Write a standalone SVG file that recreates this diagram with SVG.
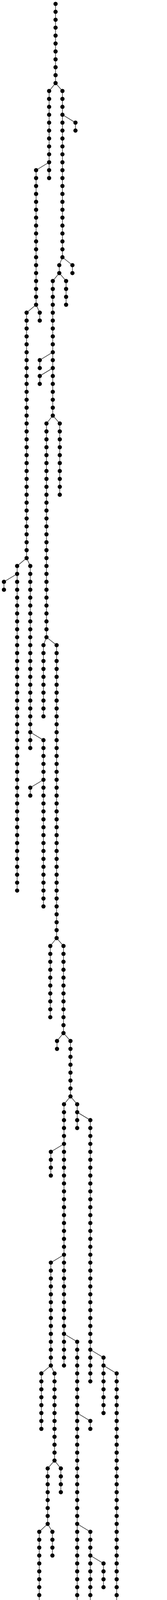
<svg xmlns="http://www.w3.org/2000/svg" width="428" height="6262" viewBox="0 0 428 6262">
<style>
#links line,#links polyline{stroke:#333;stroke-width:1.5;fill:none;vector-effect:non-scaling-stroke}
#nodes use{fill:#000}
</style>
<defs><circle id="d" r="5.4" transform="scale(1 0.049344)"/></defs>
<rect width="428" height="6262" fill="#fff"/>
<g transform="matrix(1 0 0 20.266 0 10)">
<g id="links">
<line x1="142.4" y1="0" x2="142.4" y2="10"/>
<line x1="125.9" y1="11" x2="125.9" y2="22"/>
<line x1="160" y1="11" x2="160" y2="32"/>
<line x1="92.5" y1="21" x2="92.5" y2="38"/>
<line x1="193.4" y1="15" x2="193.4" y2="16"/>
<line x1="151.9" y1="33" x2="151.9" y2="34"/>
<line x1="185.6" y1="33" x2="185.6" y2="34"/>
<line x1="68.2" y1="39" x2="68.2" y2="70"/>
<line x1="101.9" y1="39" x2="101.9" y2="40"/>
<line x1="135.3" y1="35" x2="135.3" y2="52"/>
<line x1="169.4" y1="35" x2="169.4" y2="38"/>
<line x1="101.9" y1="45" x2="101.9" y2="46"/>
<line x1="101.9" y1="47" x2="101.9" y2="48"/>
<line x1="119.1" y1="53" x2="119.1" y2="80"/>
<line x1="153.2" y1="53" x2="153.2" y2="62"/>
<line x1="43.9" y1="71" x2="43.9" y2="112"/>
<line x1="77.6" y1="71" x2="77.6" y2="94"/>
<line x1="111.4" y1="81" x2="111.4" y2="90"/>
<line x1="145.1" y1="81" x2="145.1" y2="118"/>
<line x1="10.1" y1="73" x2="10.1" y2="74"/>
<line x1="111.4" y1="93" x2="111.4" y2="114"/>
<line x1="77.6" y1="99" x2="77.6" y2="100"/>
<line x1="128.9" y1="119" x2="128.9" y2="128"/>
<line x1="162.7" y1="119" x2="162.7" y2="130"/>
<line x1="146.1" y1="131" x2="146.1" y2="132"/>
<line x1="180.6" y1="131" x2="180.6" y2="138"/>
<line x1="164" y1="139" x2="164" y2="172"/>
<line x1="197.8" y1="139" x2="197.8" y2="142"/>
<line x1="231.5" y1="141" x2="231.5" y2="174"/>
<line x1="265.3" y1="171" x2="265.3" y2="178"/>
<line x1="130.3" y1="145" x2="130.3" y2="148"/>
<line x1="130.3" y1="159" x2="130.3" y2="172"/>
<line x1="197.8" y1="169" x2="197.8" y2="204"/>
<line x1="106" y1="173" x2="106" y2="180"/>
<line x1="139.7" y1="173" x2="139.7" y2="184"/>
<line x1="231.5" y1="179" x2="231.5" y2="180"/>
<line x1="231.5" y1="193" x2="231.5" y2="238"/>
<line x1="164" y1="203" x2="164" y2="204"/>
<line x1="299" y1="173" x2="299" y2="230"/>
<line x1="122.2" y1="185" x2="122.2" y2="192"/>
<line x1="155.9" y1="185" x2="155.9" y2="188"/>
<line x1="100.6" y1="193" x2="100.6" y2="206"/>
<line x1="134.3" y1="193" x2="134.3" y2="196"/>
<line x1="70.9" y1="207" x2="70.9" y2="236"/>
<line x1="104.6" y1="207" x2="104.6" y2="208"/>
<line x1="265.3" y1="197" x2="265.3" y2="200"/>
<line x1="265.3" y1="215" x2="265.3" y2="218"/>
<line x1="212.6" y1="239" x2="212.6" y2="272"/>
<line x1="246.4" y1="239" x2="246.4" y2="254"/>
<line x1="138.4" y1="205" x2="138.4" y2="212"/>
<line x1="172.1" y1="205" x2="172.1" y2="258"/>
<line x1="265.3" y1="209" x2="265.3" y2="214"/>
<line x1="289.6" y1="231" x2="289.6" y2="258"/>
<line x1="323.3" y1="231" x2="323.3" y2="238"/>
<line x1="46.6" y1="237" x2="46.6" y2="240"/>
<line x1="80.3" y1="237" x2="80.3" y2="240"/>
<line x1="138.4" y1="223" x2="138.4" y2="252"/>
<line x1="104.6" y1="249" x2="104.6" y2="250"/>
<line x1="20.9" y1="241" x2="20.9" y2="252"/>
<line x1="54.7" y1="241" x2="54.7" y2="250"/>
<line x1="357.1" y1="235" x2="357.1" y2="238"/>
<line x1="331.4" y1="239" x2="331.4" y2="240"/>
<line x1="365.2" y1="239" x2="365.2" y2="256"/>
<line x1="338.5" y1="257" x2="338.5" y2="268"/>
<polyline points="372.9,257 372.9,264 374.6,265 376.3,266 379.7,267 384.1,268 389.8,269 389.8,280"/>
<line x1="287.9" y1="267" x2="287.9" y2="282"/>
<line x1="321.6" y1="269" x2="321.6" y2="280"/>
<line x1="355.4" y1="269" x2="355.4" y2="270"/>
<line x1="254.1" y1="273" x2="254.1" y2="276"/>
<line x1="321.6" y1="281" x2="321.6" y2="298"/>
<line x1="422.5" y1="279" x2="422.5" y2="288"/>
<line x1="389.8" y1="281" x2="389.8" y2="296"/>
<line x1="355.9" y1="285" x2="355.9" y2="298"/>
<line x1="422.5" y1="293" x2="422.5" y2="294"/>
<line x1="287.9" y1="291" x2="287.9" y2="292"/>
<line x1="287.9" y1="295" x2="287.9" y2="308"/>
<line x1="142.4" y1="10" x2="125.9" y2="11"/>
<line x1="142.4" y1="10" x2="160" y2="11"/>
<line x1="160" y1="14" x2="193.4" y2="15"/>
<line x1="125.9" y1="20" x2="92.5" y2="21"/>
<line x1="160" y1="32" x2="151.9" y2="33"/>
<line x1="160" y1="32" x2="185.6" y2="33"/>
<line x1="151.9" y1="34" x2="135.3" y2="35"/>
<line x1="151.9" y1="34" x2="169.4" y2="35"/>
<line x1="92.5" y1="38" x2="68.2" y2="39"/>
<line x1="92.5" y1="38" x2="101.9" y2="39"/>
<line x1="135.3" y1="44" x2="101.9" y2="45"/>
<line x1="135.3" y1="46" x2="101.9" y2="47"/>
<line x1="135.3" y1="52" x2="119.1" y2="53"/>
<line x1="135.3" y1="52" x2="153.2" y2="53"/>
<line x1="68.2" y1="70" x2="43.9" y2="71"/>
<line x1="68.2" y1="70" x2="77.6" y2="71"/>
<line x1="43.9" y1="72" x2="10.1" y2="73"/>
<line x1="119.1" y1="80" x2="111.4" y2="81"/>
<line x1="119.1" y1="80" x2="145.1" y2="81"/>
<line x1="77.6" y1="92" x2="111.4" y2="93"/>
<line x1="111.4" y1="98" x2="77.6" y2="99"/>
<line x1="145.1" y1="118" x2="128.9" y2="119"/>
<line x1="145.1" y1="118" x2="162.7" y2="119"/>
<line x1="162.7" y1="130" x2="146.1" y2="131"/>
<line x1="162.7" y1="130" x2="180.6" y2="131"/>
<line x1="180.6" y1="138" x2="164" y2="139"/>
<line x1="180.6" y1="138" x2="197.8" y2="139"/>
<line x1="197.8" y1="140" x2="231.5" y2="141"/>
<line x1="164" y1="144" x2="130.3" y2="145"/>
<line x1="164" y1="158" x2="130.3" y2="159"/>
<line x1="164" y1="168" x2="197.8" y2="169"/>
<line x1="231.5" y1="170" x2="265.3" y2="171"/>
<line x1="265.3" y1="172" x2="299" y2="173"/>
<line x1="130.3" y1="172" x2="106" y2="173"/>
<line x1="130.3" y1="172" x2="139.7" y2="173"/>
<line x1="197.8" y1="178" x2="231.5" y2="179"/>
<line x1="139.7" y1="184" x2="122.2" y2="185"/>
<line x1="139.7" y1="184" x2="155.9" y2="185"/>
<line x1="122.2" y1="192" x2="100.6" y2="193"/>
<line x1="122.2" y1="192" x2="134.3" y2="193"/>
<line x1="197.8" y1="192" x2="231.5" y2="193"/>
<line x1="231.5" y1="196" x2="265.3" y2="197"/>
<line x1="197.8" y1="202" x2="164" y2="203"/>
<line x1="164" y1="204" x2="138.4" y2="205"/>
<line x1="164" y1="204" x2="172.1" y2="205"/>
<line x1="100.6" y1="206" x2="70.9" y2="207"/>
<line x1="100.6" y1="206" x2="104.6" y2="207"/>
<line x1="299" y1="208" x2="265.3" y2="209"/>
<line x1="231.5" y1="214" x2="265.3" y2="215"/>
<line x1="172.1" y1="222" x2="138.4" y2="223"/>
<line x1="299" y1="230" x2="289.6" y2="231"/>
<line x1="299" y1="230" x2="323.3" y2="231"/>
<line x1="323.3" y1="234" x2="357.1" y2="235"/>
<line x1="70.9" y1="236" x2="46.6" y2="237"/>
<line x1="70.9" y1="236" x2="80.3" y2="237"/>
<line x1="231.5" y1="238" x2="212.6" y2="239"/>
<line x1="231.5" y1="238" x2="246.4" y2="239"/>
<line x1="357.1" y1="238" x2="331.4" y2="239"/>
<line x1="357.1" y1="238" x2="365.2" y2="239"/>
<line x1="46.6" y1="240" x2="20.9" y2="241"/>
<line x1="46.6" y1="240" x2="54.7" y2="241"/>
<line x1="138.4" y1="248" x2="104.6" y2="249"/>
<line x1="365.2" y1="256" x2="338.5" y2="257"/>
<line x1="365.2" y1="256" x2="372.9" y2="257"/>
<line x1="338.5" y1="266" x2="287.9" y2="267"/>
<line x1="338.5" y1="268" x2="321.6" y2="269"/>
<line x1="338.5" y1="268" x2="355.4" y2="269"/>
<line x1="287.9" y1="272" x2="254.1" y2="273"/>
<line x1="389.8" y1="278" x2="422.5" y2="279"/>
<line x1="287.9" y1="280" x2="321.6" y2="281"/>
<line x1="422.5" y1="280" x2="389.8" y2="281"/>
<line x1="389.8" y1="284" x2="355.9" y2="285"/>
<line x1="321.6" y1="290" x2="287.9" y2="291"/>
<line x1="389.8" y1="292" x2="422.5" y2="293"/>
<line x1="321.6" y1="294" x2="287.9" y2="295"/>
</g>
<g id="nodes">
<g id="b0" transform="translate(142.4 0)"><use id="n0_0" href="#d" y="0"/><use id="n0_1" href="#d" y="1"/><use id="n0_2" href="#d" y="2"/><use id="n0_3" href="#d" y="3"/><use id="n0_4" href="#d" y="4"/><use id="n0_5" href="#d" y="5"/><use id="n0_6" href="#d" y="6"/><use id="n0_7" href="#d" y="7"/><use id="n0_8" href="#d" y="8"/><use id="n0_9" href="#d" y="9"/><use id="n0_10" href="#d" y="10"/></g>
<g id="b1" transform="translate(125.9 0)"><use id="n1_11" href="#d" y="11"/><use id="n1_12" href="#d" y="12"/><use id="n1_13" href="#d" y="13"/><use id="n1_14" href="#d" y="14"/><use id="n1_15" href="#d" y="15"/><use id="n1_16" href="#d" y="16"/><use id="n1_17" href="#d" y="17"/><use id="n1_18" href="#d" y="18"/><use id="n1_19" href="#d" y="19"/><use id="n1_20" href="#d" y="20"/><use id="n1_21" href="#d" y="21"/><use id="n1_22" href="#d" y="22"/></g>
<g id="b2" transform="translate(160 0)"><use id="n2_11" href="#d" y="11"/><use id="n2_12" href="#d" y="12"/><use id="n2_13" href="#d" y="13"/><use id="n2_14" href="#d" y="14"/><use id="n2_15" href="#d" y="15"/><use id="n2_16" href="#d" y="16"/><use id="n2_17" href="#d" y="17"/><use id="n2_18" href="#d" y="18"/><use id="n2_19" href="#d" y="19"/><use id="n2_20" href="#d" y="20"/><use id="n2_21" href="#d" y="21"/><use id="n2_22" href="#d" y="22"/><use id="n2_23" href="#d" y="23"/><use id="n2_24" href="#d" y="24"/><use id="n2_25" href="#d" y="25"/><use id="n2_26" href="#d" y="26"/><use id="n2_27" href="#d" y="27"/><use id="n2_28" href="#d" y="28"/><use id="n2_29" href="#d" y="29"/><use id="n2_30" href="#d" y="30"/><use id="n2_31" href="#d" y="31"/><use id="n2_32" href="#d" y="32"/></g>
<g id="b3" transform="translate(92.5 0)"><use id="n3_21" href="#d" y="21"/><use id="n3_22" href="#d" y="22"/><use id="n3_23" href="#d" y="23"/><use id="n3_24" href="#d" y="24"/><use id="n3_25" href="#d" y="25"/><use id="n3_26" href="#d" y="26"/><use id="n3_27" href="#d" y="27"/><use id="n3_28" href="#d" y="28"/><use id="n3_29" href="#d" y="29"/><use id="n3_30" href="#d" y="30"/><use id="n3_31" href="#d" y="31"/><use id="n3_32" href="#d" y="32"/><use id="n3_33" href="#d" y="33"/><use id="n3_34" href="#d" y="34"/><use id="n3_35" href="#d" y="35"/><use id="n3_36" href="#d" y="36"/><use id="n3_37" href="#d" y="37"/><use id="n3_38" href="#d" y="38"/></g>
<g id="b4" transform="translate(193.4 0)"><use id="n4_15" href="#d" y="15"/><use id="n4_16" href="#d" y="16"/></g>
<g id="b5" transform="translate(151.9 0)"><use id="n5_33" href="#d" y="33"/><use id="n5_34" href="#d" y="34"/></g>
<g id="b6" transform="translate(185.6 0)"><use id="n6_33" href="#d" y="33"/><use id="n6_34" href="#d" y="34"/></g>
<g id="b7" transform="translate(68.2 0)"><use id="n7_39" href="#d" y="39"/><use id="n7_40" href="#d" y="40"/><use id="n7_41" href="#d" y="41"/><use id="n7_42" href="#d" y="42"/><use id="n7_43" href="#d" y="43"/><use id="n7_44" href="#d" y="44"/><use id="n7_45" href="#d" y="45"/><use id="n7_46" href="#d" y="46"/><use id="n7_47" href="#d" y="47"/><use id="n7_48" href="#d" y="48"/><use id="n7_49" href="#d" y="49"/><use id="n7_50" href="#d" y="50"/><use id="n7_51" href="#d" y="51"/><use id="n7_52" href="#d" y="52"/><use id="n7_53" href="#d" y="53"/><use id="n7_54" href="#d" y="54"/><use id="n7_55" href="#d" y="55"/><use id="n7_56" href="#d" y="56"/><use id="n7_57" href="#d" y="57"/><use id="n7_58" href="#d" y="58"/><use id="n7_59" href="#d" y="59"/><use id="n7_60" href="#d" y="60"/><use id="n7_61" href="#d" y="61"/><use id="n7_62" href="#d" y="62"/><use id="n7_63" href="#d" y="63"/><use id="n7_64" href="#d" y="64"/><use id="n7_65" href="#d" y="65"/><use id="n7_66" href="#d" y="66"/><use id="n7_67" href="#d" y="67"/><use id="n7_68" href="#d" y="68"/><use id="n7_69" href="#d" y="69"/><use id="n7_70" href="#d" y="70"/></g>
<g id="b8" transform="translate(101.9 0)"><use id="n8_39" href="#d" y="39"/><use id="n8_40" href="#d" y="40"/></g>
<g id="b9" transform="translate(135.3 0)"><use id="n9_35" href="#d" y="35"/><use id="n9_36" href="#d" y="36"/><use id="n9_37" href="#d" y="37"/><use id="n9_38" href="#d" y="38"/><use id="n9_39" href="#d" y="39"/><use id="n9_40" href="#d" y="40"/><use id="n9_41" href="#d" y="41"/><use id="n9_42" href="#d" y="42"/><use id="n9_43" href="#d" y="43"/><use id="n9_44" href="#d" y="44"/><use id="n9_45" href="#d" y="45"/><use id="n9_46" href="#d" y="46"/><use id="n9_47" href="#d" y="47"/><use id="n9_48" href="#d" y="48"/><use id="n9_49" href="#d" y="49"/><use id="n9_50" href="#d" y="50"/><use id="n9_51" href="#d" y="51"/><use id="n9_52" href="#d" y="52"/></g>
<g id="b10" transform="translate(169.4 0)"><use id="n10_35" href="#d" y="35"/><use id="n10_36" href="#d" y="36"/><use id="n10_37" href="#d" y="37"/><use id="n10_38" href="#d" y="38"/></g>
<g id="b11" transform="translate(101.9 0)"><use id="n11_45" href="#d" y="45"/><use id="n11_46" href="#d" y="46"/></g>
<g id="b12" transform="translate(101.9 0)"><use id="n12_47" href="#d" y="47"/><use id="n12_48" href="#d" y="48"/></g>
<g id="b13" transform="translate(119.1 0)"><use id="n13_53" href="#d" y="53"/><use id="n13_54" href="#d" y="54"/><use id="n13_55" href="#d" y="55"/><use id="n13_56" href="#d" y="56"/><use id="n13_57" href="#d" y="57"/><use id="n13_58" href="#d" y="58"/><use id="n13_59" href="#d" y="59"/><use id="n13_60" href="#d" y="60"/><use id="n13_61" href="#d" y="61"/><use id="n13_62" href="#d" y="62"/><use id="n13_63" href="#d" y="63"/><use id="n13_64" href="#d" y="64"/><use id="n13_65" href="#d" y="65"/><use id="n13_66" href="#d" y="66"/><use id="n13_67" href="#d" y="67"/><use id="n13_68" href="#d" y="68"/><use id="n13_69" href="#d" y="69"/><use id="n13_70" href="#d" y="70"/><use id="n13_71" href="#d" y="71"/><use id="n13_72" href="#d" y="72"/><use id="n13_73" href="#d" y="73"/><use id="n13_74" href="#d" y="74"/><use id="n13_75" href="#d" y="75"/><use id="n13_76" href="#d" y="76"/><use id="n13_77" href="#d" y="77"/><use id="n13_78" href="#d" y="78"/><use id="n13_79" href="#d" y="79"/><use id="n13_80" href="#d" y="80"/></g>
<g id="b14" transform="translate(153.2 0)"><use id="n14_53" href="#d" y="53"/><use id="n14_54" href="#d" y="54"/><use id="n14_55" href="#d" y="55"/><use id="n14_56" href="#d" y="56"/><use id="n14_57" href="#d" y="57"/><use id="n14_58" href="#d" y="58"/><use id="n14_59" href="#d" y="59"/><use id="n14_60" href="#d" y="60"/><use id="n14_61" href="#d" y="61"/><use id="n14_62" href="#d" y="62"/></g>
<g id="b15" transform="translate(43.9 0)"><use id="n15_71" href="#d" y="71"/><use id="n15_72" href="#d" y="72"/><use id="n15_73" href="#d" y="73"/><use id="n15_74" href="#d" y="74"/><use id="n15_75" href="#d" y="75"/><use id="n15_76" href="#d" y="76"/><use id="n15_77" href="#d" y="77"/><use id="n15_78" href="#d" y="78"/><use id="n15_79" href="#d" y="79"/><use id="n15_80" href="#d" y="80"/><use id="n15_81" href="#d" y="81"/><use id="n15_82" href="#d" y="82"/><use id="n15_83" href="#d" y="83"/><use id="n15_84" href="#d" y="84"/><use id="n15_85" href="#d" y="85"/><use id="n15_86" href="#d" y="86"/><use id="n15_87" href="#d" y="87"/><use id="n15_88" href="#d" y="88"/><use id="n15_89" href="#d" y="89"/><use id="n15_90" href="#d" y="90"/><use id="n15_91" href="#d" y="91"/><use id="n15_92" href="#d" y="92"/><use id="n15_93" href="#d" y="93"/><use id="n15_94" href="#d" y="94"/><use id="n15_95" href="#d" y="95"/><use id="n15_96" href="#d" y="96"/><use id="n15_97" href="#d" y="97"/><use id="n15_98" href="#d" y="98"/><use id="n15_99" href="#d" y="99"/><use id="n15_100" href="#d" y="100"/><use id="n15_101" href="#d" y="101"/><use id="n15_102" href="#d" y="102"/><use id="n15_103" href="#d" y="103"/><use id="n15_104" href="#d" y="104"/><use id="n15_105" href="#d" y="105"/><use id="n15_106" href="#d" y="106"/><use id="n15_107" href="#d" y="107"/><use id="n15_108" href="#d" y="108"/><use id="n15_109" href="#d" y="109"/><use id="n15_110" href="#d" y="110"/><use id="n15_111" href="#d" y="111"/><use id="n15_112" href="#d" y="112"/></g>
<g id="b16" transform="translate(77.6 0)"><use id="n16_71" href="#d" y="71"/><use id="n16_72" href="#d" y="72"/><use id="n16_73" href="#d" y="73"/><use id="n16_74" href="#d" y="74"/><use id="n16_75" href="#d" y="75"/><use id="n16_76" href="#d" y="76"/><use id="n16_77" href="#d" y="77"/><use id="n16_78" href="#d" y="78"/><use id="n16_79" href="#d" y="79"/><use id="n16_80" href="#d" y="80"/><use id="n16_81" href="#d" y="81"/><use id="n16_82" href="#d" y="82"/><use id="n16_83" href="#d" y="83"/><use id="n16_84" href="#d" y="84"/><use id="n16_85" href="#d" y="85"/><use id="n16_86" href="#d" y="86"/><use id="n16_87" href="#d" y="87"/><use id="n16_88" href="#d" y="88"/><use id="n16_89" href="#d" y="89"/><use id="n16_90" href="#d" y="90"/><use id="n16_91" href="#d" y="91"/><use id="n16_92" href="#d" y="92"/><use id="n16_93" href="#d" y="93"/><use id="n16_94" href="#d" y="94"/></g>
<g id="b17" transform="translate(111.4 0)"><use id="n17_81" href="#d" y="81"/><use id="n17_82" href="#d" y="82"/><use id="n17_83" href="#d" y="83"/><use id="n17_84" href="#d" y="84"/><use id="n17_85" href="#d" y="85"/><use id="n17_86" href="#d" y="86"/><use id="n17_87" href="#d" y="87"/><use id="n17_88" href="#d" y="88"/><use id="n17_89" href="#d" y="89"/><use id="n17_90" href="#d" y="90"/></g>
<g id="b18" transform="translate(145.1 0)"><use id="n18_81" href="#d" y="81"/><use id="n18_82" href="#d" y="82"/><use id="n18_83" href="#d" y="83"/><use id="n18_84" href="#d" y="84"/><use id="n18_85" href="#d" y="85"/><use id="n18_86" href="#d" y="86"/><use id="n18_87" href="#d" y="87"/><use id="n18_88" href="#d" y="88"/><use id="n18_89" href="#d" y="89"/><use id="n18_90" href="#d" y="90"/><use id="n18_91" href="#d" y="91"/><use id="n18_92" href="#d" y="92"/><use id="n18_93" href="#d" y="93"/><use id="n18_94" href="#d" y="94"/><use id="n18_95" href="#d" y="95"/><use id="n18_96" href="#d" y="96"/><use id="n18_97" href="#d" y="97"/><use id="n18_98" href="#d" y="98"/><use id="n18_99" href="#d" y="99"/><use id="n18_100" href="#d" y="100"/><use id="n18_101" href="#d" y="101"/><use id="n18_102" href="#d" y="102"/><use id="n18_103" href="#d" y="103"/><use id="n18_104" href="#d" y="104"/><use id="n18_105" href="#d" y="105"/><use id="n18_106" href="#d" y="106"/><use id="n18_107" href="#d" y="107"/><use id="n18_108" href="#d" y="108"/><use id="n18_109" href="#d" y="109"/><use id="n18_110" href="#d" y="110"/><use id="n18_111" href="#d" y="111"/><use id="n18_112" href="#d" y="112"/><use id="n18_113" href="#d" y="113"/><use id="n18_114" href="#d" y="114"/><use id="n18_115" href="#d" y="115"/><use id="n18_116" href="#d" y="116"/><use id="n18_117" href="#d" y="117"/><use id="n18_118" href="#d" y="118"/></g>
<g id="b19" transform="translate(10.1 0)"><use id="n19_73" href="#d" y="73"/><use id="n19_74" href="#d" y="74"/></g>
<g id="b20" transform="translate(111.4 0)"><use id="n20_93" href="#d" y="93"/><use id="n20_94" href="#d" y="94"/><use id="n20_95" href="#d" y="95"/><use id="n20_96" href="#d" y="96"/><use id="n20_97" href="#d" y="97"/><use id="n20_98" href="#d" y="98"/><use id="n20_99" href="#d" y="99"/><use id="n20_100" href="#d" y="100"/><use id="n20_101" href="#d" y="101"/><use id="n20_102" href="#d" y="102"/><use id="n20_103" href="#d" y="103"/><use id="n20_104" href="#d" y="104"/><use id="n20_105" href="#d" y="105"/><use id="n20_106" href="#d" y="106"/><use id="n20_107" href="#d" y="107"/><use id="n20_108" href="#d" y="108"/><use id="n20_109" href="#d" y="109"/><use id="n20_110" href="#d" y="110"/><use id="n20_111" href="#d" y="111"/><use id="n20_112" href="#d" y="112"/><use id="n20_113" href="#d" y="113"/><use id="n20_114" href="#d" y="114"/></g>
<g id="b21" transform="translate(77.6 0)"><use id="n21_99" href="#d" y="99"/><use id="n21_100" href="#d" y="100"/></g>
<g id="b22" transform="translate(128.9 0)"><use id="n22_119" href="#d" y="119"/><use id="n22_120" href="#d" y="120"/><use id="n22_121" href="#d" y="121"/><use id="n22_122" href="#d" y="122"/><use id="n22_123" href="#d" y="123"/><use id="n22_124" href="#d" y="124"/><use id="n22_125" href="#d" y="125"/><use id="n22_126" href="#d" y="126"/><use id="n22_127" href="#d" y="127"/><use id="n22_128" href="#d" y="128"/></g>
<g id="b23" transform="translate(162.7 0)"><use id="n23_119" href="#d" y="119"/><use id="n23_120" href="#d" y="120"/><use id="n23_121" href="#d" y="121"/><use id="n23_122" href="#d" y="122"/><use id="n23_123" href="#d" y="123"/><use id="n23_124" href="#d" y="124"/><use id="n23_125" href="#d" y="125"/><use id="n23_126" href="#d" y="126"/><use id="n23_127" href="#d" y="127"/><use id="n23_128" href="#d" y="128"/><use id="n23_129" href="#d" y="129"/><use id="n23_130" href="#d" y="130"/></g>
<g id="b24" transform="translate(146.1 0)"><use id="n24_131" href="#d" y="131"/><use id="n24_132" href="#d" y="132"/></g>
<g id="b25" transform="translate(180.6 0)"><use id="n25_131" href="#d" y="131"/><use id="n25_132" href="#d" y="132"/><use id="n25_133" href="#d" y="133"/><use id="n25_134" href="#d" y="134"/><use id="n25_135" href="#d" y="135"/><use id="n25_136" href="#d" y="136"/><use id="n25_137" href="#d" y="137"/><use id="n25_138" href="#d" y="138"/></g>
<g id="b26" transform="translate(164 0)"><use id="n26_139" href="#d" y="139"/><use id="n26_140" href="#d" y="140"/><use id="n26_141" href="#d" y="141"/><use id="n26_142" href="#d" y="142"/><use id="n26_143" href="#d" y="143"/><use id="n26_144" href="#d" y="144"/><use id="n26_145" href="#d" y="145"/><use id="n26_146" href="#d" y="146"/><use id="n26_147" href="#d" y="147"/><use id="n26_148" href="#d" y="148"/><use id="n26_149" href="#d" y="149"/><use id="n26_150" href="#d" y="150"/><use id="n26_151" href="#d" y="151"/><use id="n26_152" href="#d" y="152"/><use id="n26_153" href="#d" y="153"/><use id="n26_154" href="#d" y="154"/><use id="n26_155" href="#d" y="155"/><use id="n26_156" href="#d" y="156"/><use id="n26_157" href="#d" y="157"/><use id="n26_158" href="#d" y="158"/><use id="n26_159" href="#d" y="159"/><use id="n26_160" href="#d" y="160"/><use id="n26_161" href="#d" y="161"/><use id="n26_162" href="#d" y="162"/><use id="n26_163" href="#d" y="163"/><use id="n26_164" href="#d" y="164"/><use id="n26_165" href="#d" y="165"/><use id="n26_166" href="#d" y="166"/><use id="n26_167" href="#d" y="167"/><use id="n26_168" href="#d" y="168"/><use id="n26_169" href="#d" y="169"/><use id="n26_170" href="#d" y="170"/><use id="n26_171" href="#d" y="171"/><use id="n26_172" href="#d" y="172"/></g>
<g id="b27" transform="translate(197.8 0)"><use id="n27_139" href="#d" y="139"/><use id="n27_140" href="#d" y="140"/><use id="n27_141" href="#d" y="141"/><use id="n27_142" href="#d" y="142"/></g>
<g id="b28" transform="translate(231.5 0)"><use id="n28_141" href="#d" y="141"/><use id="n28_142" href="#d" y="142"/><use id="n28_143" href="#d" y="143"/><use id="n28_144" href="#d" y="144"/><use id="n28_145" href="#d" y="145"/><use id="n28_146" href="#d" y="146"/><use id="n28_147" href="#d" y="147"/><use id="n28_148" href="#d" y="148"/><use id="n28_149" href="#d" y="149"/><use id="n28_150" href="#d" y="150"/><use id="n28_151" href="#d" y="151"/><use id="n28_152" href="#d" y="152"/><use id="n28_153" href="#d" y="153"/><use id="n28_154" href="#d" y="154"/><use id="n28_155" href="#d" y="155"/><use id="n28_156" href="#d" y="156"/><use id="n28_157" href="#d" y="157"/><use id="n28_158" href="#d" y="158"/><use id="n28_159" href="#d" y="159"/><use id="n28_160" href="#d" y="160"/><use id="n28_161" href="#d" y="161"/><use id="n28_162" href="#d" y="162"/><use id="n28_163" href="#d" y="163"/><use id="n28_164" href="#d" y="164"/><use id="n28_165" href="#d" y="165"/><use id="n28_166" href="#d" y="166"/><use id="n28_167" href="#d" y="167"/><use id="n28_168" href="#d" y="168"/><use id="n28_169" href="#d" y="169"/><use id="n28_170" href="#d" y="170"/><use id="n28_171" href="#d" y="171"/><use id="n28_172" href="#d" y="172"/><use id="n28_173" href="#d" y="173"/><use id="n28_174" href="#d" y="174"/></g>
<g id="b29" transform="translate(265.3 0)"><use id="n29_171" href="#d" y="171"/><use id="n29_172" href="#d" y="172"/><use id="n29_173" href="#d" y="173"/><use id="n29_174" href="#d" y="174"/><use id="n29_175" href="#d" y="175"/><use id="n29_176" href="#d" y="176"/><use id="n29_177" href="#d" y="177"/><use id="n29_178" href="#d" y="178"/></g>
<g id="b30" transform="translate(130.3 0)"><use id="n30_145" href="#d" y="145"/><use id="n30_146" href="#d" y="146"/><use id="n30_147" href="#d" y="147"/><use id="n30_148" href="#d" y="148"/></g>
<g id="b31" transform="translate(130.3 0)"><use id="n31_159" href="#d" y="159"/><use id="n31_160" href="#d" y="160"/><use id="n31_161" href="#d" y="161"/><use id="n31_162" href="#d" y="162"/><use id="n31_163" href="#d" y="163"/><use id="n31_164" href="#d" y="164"/><use id="n31_165" href="#d" y="165"/><use id="n31_166" href="#d" y="166"/><use id="n31_167" href="#d" y="167"/><use id="n31_168" href="#d" y="168"/><use id="n31_169" href="#d" y="169"/><use id="n31_170" href="#d" y="170"/><use id="n31_171" href="#d" y="171"/><use id="n31_172" href="#d" y="172"/></g>
<g id="b32" transform="translate(197.8 0)"><use id="n32_169" href="#d" y="169"/><use id="n32_170" href="#d" y="170"/><use id="n32_171" href="#d" y="171"/><use id="n32_172" href="#d" y="172"/><use id="n32_173" href="#d" y="173"/><use id="n32_174" href="#d" y="174"/><use id="n32_175" href="#d" y="175"/><use id="n32_176" href="#d" y="176"/><use id="n32_177" href="#d" y="177"/><use id="n32_178" href="#d" y="178"/><use id="n32_179" href="#d" y="179"/><use id="n32_180" href="#d" y="180"/><use id="n32_181" href="#d" y="181"/><use id="n32_182" href="#d" y="182"/><use id="n32_183" href="#d" y="183"/><use id="n32_184" href="#d" y="184"/><use id="n32_185" href="#d" y="185"/><use id="n32_186" href="#d" y="186"/><use id="n32_187" href="#d" y="187"/><use id="n32_188" href="#d" y="188"/><use id="n32_189" href="#d" y="189"/><use id="n32_190" href="#d" y="190"/><use id="n32_191" href="#d" y="191"/><use id="n32_192" href="#d" y="192"/><use id="n32_193" href="#d" y="193"/><use id="n32_194" href="#d" y="194"/><use id="n32_195" href="#d" y="195"/><use id="n32_196" href="#d" y="196"/><use id="n32_197" href="#d" y="197"/><use id="n32_198" href="#d" y="198"/><use id="n32_199" href="#d" y="199"/><use id="n32_200" href="#d" y="200"/><use id="n32_201" href="#d" y="201"/><use id="n32_202" href="#d" y="202"/><use id="n32_203" href="#d" y="203"/><use id="n32_204" href="#d" y="204"/></g>
<g id="b33" transform="translate(106 0)"><use id="n33_173" href="#d" y="173"/><use id="n33_174" href="#d" y="174"/><use id="n33_175" href="#d" y="175"/><use id="n33_176" href="#d" y="176"/><use id="n33_177" href="#d" y="177"/><use id="n33_178" href="#d" y="178"/><use id="n33_179" href="#d" y="179"/><use id="n33_180" href="#d" y="180"/></g>
<g id="b34" transform="translate(139.7 0)"><use id="n34_173" href="#d" y="173"/><use id="n34_174" href="#d" y="174"/><use id="n34_175" href="#d" y="175"/><use id="n34_176" href="#d" y="176"/><use id="n34_177" href="#d" y="177"/><use id="n34_178" href="#d" y="178"/><use id="n34_179" href="#d" y="179"/><use id="n34_180" href="#d" y="180"/><use id="n34_181" href="#d" y="181"/><use id="n34_182" href="#d" y="182"/><use id="n34_183" href="#d" y="183"/><use id="n34_184" href="#d" y="184"/></g>
<g id="b35" transform="translate(231.5 0)"><use id="n35_179" href="#d" y="179"/><use id="n35_180" href="#d" y="180"/></g>
<g id="b36" transform="translate(231.5 0)"><use id="n36_193" href="#d" y="193"/><use id="n36_194" href="#d" y="194"/><use id="n36_195" href="#d" y="195"/><use id="n36_196" href="#d" y="196"/><use id="n36_197" href="#d" y="197"/><use id="n36_198" href="#d" y="198"/><use id="n36_199" href="#d" y="199"/><use id="n36_200" href="#d" y="200"/><use id="n36_201" href="#d" y="201"/><use id="n36_202" href="#d" y="202"/><use id="n36_203" href="#d" y="203"/><use id="n36_204" href="#d" y="204"/><use id="n36_205" href="#d" y="205"/><use id="n36_206" href="#d" y="206"/><use id="n36_207" href="#d" y="207"/><use id="n36_208" href="#d" y="208"/><use id="n36_209" href="#d" y="209"/><use id="n36_210" href="#d" y="210"/><use id="n36_211" href="#d" y="211"/><use id="n36_212" href="#d" y="212"/><use id="n36_213" href="#d" y="213"/><use id="n36_214" href="#d" y="214"/><use id="n36_215" href="#d" y="215"/><use id="n36_216" href="#d" y="216"/><use id="n36_217" href="#d" y="217"/><use id="n36_218" href="#d" y="218"/><use id="n36_219" href="#d" y="219"/><use id="n36_220" href="#d" y="220"/><use id="n36_221" href="#d" y="221"/><use id="n36_222" href="#d" y="222"/><use id="n36_223" href="#d" y="223"/><use id="n36_224" href="#d" y="224"/><use id="n36_225" href="#d" y="225"/><use id="n36_226" href="#d" y="226"/><use id="n36_227" href="#d" y="227"/><use id="n36_228" href="#d" y="228"/><use id="n36_229" href="#d" y="229"/><use id="n36_230" href="#d" y="230"/><use id="n36_231" href="#d" y="231"/><use id="n36_232" href="#d" y="232"/><use id="n36_233" href="#d" y="233"/><use id="n36_234" href="#d" y="234"/><use id="n36_235" href="#d" y="235"/><use id="n36_236" href="#d" y="236"/><use id="n36_237" href="#d" y="237"/><use id="n36_238" href="#d" y="238"/></g>
<g id="b37" transform="translate(164 0)"><use id="n37_203" href="#d" y="203"/><use id="n37_204" href="#d" y="204"/></g>
<g id="b38" transform="translate(299 0)"><use id="n38_173" href="#d" y="173"/><use id="n38_174" href="#d" y="174"/><use id="n38_175" href="#d" y="175"/><use id="n38_176" href="#d" y="176"/><use id="n38_177" href="#d" y="177"/><use id="n38_178" href="#d" y="178"/><use id="n38_179" href="#d" y="179"/><use id="n38_180" href="#d" y="180"/><use id="n38_181" href="#d" y="181"/><use id="n38_182" href="#d" y="182"/><use id="n38_183" href="#d" y="183"/><use id="n38_184" href="#d" y="184"/><use id="n38_185" href="#d" y="185"/><use id="n38_186" href="#d" y="186"/><use id="n38_187" href="#d" y="187"/><use id="n38_188" href="#d" y="188"/><use id="n38_189" href="#d" y="189"/><use id="n38_190" href="#d" y="190"/><use id="n38_191" href="#d" y="191"/><use id="n38_192" href="#d" y="192"/><use id="n38_193" href="#d" y="193"/><use id="n38_194" href="#d" y="194"/><use id="n38_195" href="#d" y="195"/><use id="n38_196" href="#d" y="196"/><use id="n38_197" href="#d" y="197"/><use id="n38_198" href="#d" y="198"/><use id="n38_199" href="#d" y="199"/><use id="n38_200" href="#d" y="200"/><use id="n38_201" href="#d" y="201"/><use id="n38_202" href="#d" y="202"/><use id="n38_203" href="#d" y="203"/><use id="n38_204" href="#d" y="204"/><use id="n38_205" href="#d" y="205"/><use id="n38_206" href="#d" y="206"/><use id="n38_207" href="#d" y="207"/><use id="n38_208" href="#d" y="208"/><use id="n38_209" href="#d" y="209"/><use id="n38_210" href="#d" y="210"/><use id="n38_211" href="#d" y="211"/><use id="n38_212" href="#d" y="212"/><use id="n38_213" href="#d" y="213"/><use id="n38_214" href="#d" y="214"/><use id="n38_215" href="#d" y="215"/><use id="n38_216" href="#d" y="216"/><use id="n38_217" href="#d" y="217"/><use id="n38_218" href="#d" y="218"/><use id="n38_219" href="#d" y="219"/><use id="n38_220" href="#d" y="220"/><use id="n38_221" href="#d" y="221"/><use id="n38_222" href="#d" y="222"/><use id="n38_223" href="#d" y="223"/><use id="n38_224" href="#d" y="224"/><use id="n38_225" href="#d" y="225"/><use id="n38_226" href="#d" y="226"/><use id="n38_227" href="#d" y="227"/><use id="n38_228" href="#d" y="228"/><use id="n38_229" href="#d" y="229"/><use id="n38_230" href="#d" y="230"/></g>
<g id="b39" transform="translate(122.2 0)"><use id="n39_185" href="#d" y="185"/><use id="n39_186" href="#d" y="186"/><use id="n39_187" href="#d" y="187"/><use id="n39_188" href="#d" y="188"/><use id="n39_189" href="#d" y="189"/><use id="n39_190" href="#d" y="190"/><use id="n39_191" href="#d" y="191"/><use id="n39_192" href="#d" y="192"/></g>
<g id="b40" transform="translate(155.9 0)"><use id="n40_185" href="#d" y="185"/><use id="n40_186" href="#d" y="186"/><use id="n40_187" href="#d" y="187"/><use id="n40_188" href="#d" y="188"/></g>
<g id="b41" transform="translate(100.6 0)"><use id="n41_193" href="#d" y="193"/><use id="n41_194" href="#d" y="194"/><use id="n41_195" href="#d" y="195"/><use id="n41_196" href="#d" y="196"/><use id="n41_197" href="#d" y="197"/><use id="n41_198" href="#d" y="198"/><use id="n41_199" href="#d" y="199"/><use id="n41_200" href="#d" y="200"/><use id="n41_201" href="#d" y="201"/><use id="n41_202" href="#d" y="202"/><use id="n41_203" href="#d" y="203"/><use id="n41_204" href="#d" y="204"/><use id="n41_205" href="#d" y="205"/><use id="n41_206" href="#d" y="206"/></g>
<g id="b42" transform="translate(134.3 0)"><use id="n42_193" href="#d" y="193"/><use id="n42_194" href="#d" y="194"/><use id="n42_195" href="#d" y="195"/><use id="n42_196" href="#d" y="196"/></g>
<g id="b43" transform="translate(70.9 0)"><use id="n43_207" href="#d" y="207"/><use id="n43_208" href="#d" y="208"/><use id="n43_209" href="#d" y="209"/><use id="n43_210" href="#d" y="210"/><use id="n43_211" href="#d" y="211"/><use id="n43_212" href="#d" y="212"/><use id="n43_213" href="#d" y="213"/><use id="n43_214" href="#d" y="214"/><use id="n43_215" href="#d" y="215"/><use id="n43_216" href="#d" y="216"/><use id="n43_217" href="#d" y="217"/><use id="n43_218" href="#d" y="218"/><use id="n43_219" href="#d" y="219"/><use id="n43_220" href="#d" y="220"/><use id="n43_221" href="#d" y="221"/><use id="n43_222" href="#d" y="222"/><use id="n43_223" href="#d" y="223"/><use id="n43_224" href="#d" y="224"/><use id="n43_225" href="#d" y="225"/><use id="n43_226" href="#d" y="226"/><use id="n43_227" href="#d" y="227"/><use id="n43_228" href="#d" y="228"/><use id="n43_229" href="#d" y="229"/><use id="n43_230" href="#d" y="230"/><use id="n43_231" href="#d" y="231"/><use id="n43_232" href="#d" y="232"/><use id="n43_233" href="#d" y="233"/><use id="n43_234" href="#d" y="234"/><use id="n43_235" href="#d" y="235"/><use id="n43_236" href="#d" y="236"/></g>
<g id="b44" transform="translate(104.6 0)"><use id="n44_207" href="#d" y="207"/><use id="n44_208" href="#d" y="208"/></g>
<g id="b45" transform="translate(265.3 0)"><use id="n45_197" href="#d" y="197"/><use id="n45_198" href="#d" y="198"/><use id="n45_199" href="#d" y="199"/><use id="n45_200" href="#d" y="200"/></g>
<g id="b46" transform="translate(265.3 0)"><use id="n46_215" href="#d" y="215"/><use id="n46_216" href="#d" y="216"/><use id="n46_217" href="#d" y="217"/><use id="n46_218" href="#d" y="218"/></g>
<g id="b47" transform="translate(212.6 0)"><use id="n47_239" href="#d" y="239"/><use id="n47_240" href="#d" y="240"/><use id="n47_241" href="#d" y="241"/><use id="n47_242" href="#d" y="242"/><use id="n47_243" href="#d" y="243"/><use id="n47_244" href="#d" y="244"/><use id="n47_245" href="#d" y="245"/><use id="n47_246" href="#d" y="246"/><use id="n47_247" href="#d" y="247"/><use id="n47_248" href="#d" y="248"/><use id="n47_249" href="#d" y="249"/><use id="n47_250" href="#d" y="250"/><use id="n47_251" href="#d" y="251"/><use id="n47_252" href="#d" y="252"/><use id="n47_253" href="#d" y="253"/><use id="n47_254" href="#d" y="254"/><use id="n47_255" href="#d" y="255"/><use id="n47_256" href="#d" y="256"/><use id="n47_257" href="#d" y="257"/><use id="n47_258" href="#d" y="258"/><use id="n47_259" href="#d" y="259"/><use id="n47_260" href="#d" y="260"/><use id="n47_261" href="#d" y="261"/><use id="n47_262" href="#d" y="262"/><use id="n47_263" href="#d" y="263"/><use id="n47_264" href="#d" y="264"/><use id="n47_265" href="#d" y="265"/><use id="n47_266" href="#d" y="266"/><use id="n47_267" href="#d" y="267"/><use id="n47_268" href="#d" y="268"/><use id="n47_269" href="#d" y="269"/><use id="n47_270" href="#d" y="270"/><use id="n47_271" href="#d" y="271"/><use id="n47_272" href="#d" y="272"/></g>
<g id="b48" transform="translate(246.4 0)"><use id="n48_239" href="#d" y="239"/><use id="n48_240" href="#d" y="240"/><use id="n48_241" href="#d" y="241"/><use id="n48_242" href="#d" y="242"/><use id="n48_243" href="#d" y="243"/><use id="n48_244" href="#d" y="244"/><use id="n48_245" href="#d" y="245"/><use id="n48_246" href="#d" y="246"/><use id="n48_247" href="#d" y="247"/><use id="n48_248" href="#d" y="248"/><use id="n48_249" href="#d" y="249"/><use id="n48_250" href="#d" y="250"/><use id="n48_251" href="#d" y="251"/><use id="n48_252" href="#d" y="252"/><use id="n48_253" href="#d" y="253"/><use id="n48_254" href="#d" y="254"/></g>
<g id="b49" transform="translate(138.4 0)"><use id="n49_205" href="#d" y="205"/><use id="n49_206" href="#d" y="206"/><use id="n49_207" href="#d" y="207"/><use id="n49_208" href="#d" y="208"/><use id="n49_209" href="#d" y="209"/><use id="n49_210" href="#d" y="210"/><use id="n49_211" href="#d" y="211"/><use id="n49_212" href="#d" y="212"/></g>
<g id="b50" transform="translate(172.1 0)"><use id="n50_205" href="#d" y="205"/><use id="n50_206" href="#d" y="206"/><use id="n50_207" href="#d" y="207"/><use id="n50_208" href="#d" y="208"/><use id="n50_209" href="#d" y="209"/><use id="n50_210" href="#d" y="210"/><use id="n50_211" href="#d" y="211"/><use id="n50_212" href="#d" y="212"/><use id="n50_213" href="#d" y="213"/><use id="n50_214" href="#d" y="214"/><use id="n50_215" href="#d" y="215"/><use id="n50_216" href="#d" y="216"/><use id="n50_217" href="#d" y="217"/><use id="n50_218" href="#d" y="218"/><use id="n50_219" href="#d" y="219"/><use id="n50_220" href="#d" y="220"/><use id="n50_221" href="#d" y="221"/><use id="n50_222" href="#d" y="222"/><use id="n50_223" href="#d" y="223"/><use id="n50_224" href="#d" y="224"/><use id="n50_225" href="#d" y="225"/><use id="n50_226" href="#d" y="226"/><use id="n50_227" href="#d" y="227"/><use id="n50_228" href="#d" y="228"/><use id="n50_229" href="#d" y="229"/><use id="n50_230" href="#d" y="230"/><use id="n50_231" href="#d" y="231"/><use id="n50_232" href="#d" y="232"/><use id="n50_233" href="#d" y="233"/><use id="n50_234" href="#d" y="234"/><use id="n50_235" href="#d" y="235"/><use id="n50_236" href="#d" y="236"/><use id="n50_237" href="#d" y="237"/><use id="n50_238" href="#d" y="238"/><use id="n50_239" href="#d" y="239"/><use id="n50_240" href="#d" y="240"/><use id="n50_241" href="#d" y="241"/><use id="n50_242" href="#d" y="242"/><use id="n50_243" href="#d" y="243"/><use id="n50_244" href="#d" y="244"/><use id="n50_245" href="#d" y="245"/><use id="n50_246" href="#d" y="246"/><use id="n50_247" href="#d" y="247"/><use id="n50_248" href="#d" y="248"/><use id="n50_249" href="#d" y="249"/><use id="n50_250" href="#d" y="250"/><use id="n50_251" href="#d" y="251"/><use id="n50_252" href="#d" y="252"/><use id="n50_253" href="#d" y="253"/><use id="n50_254" href="#d" y="254"/><use id="n50_255" href="#d" y="255"/><use id="n50_256" href="#d" y="256"/><use id="n50_257" href="#d" y="257"/><use id="n50_258" href="#d" y="258"/></g>
<g id="b51" transform="translate(265.3 0)"><use id="n51_209" href="#d" y="209"/><use id="n51_210" href="#d" y="210"/><use id="n51_211" href="#d" y="211"/><use id="n51_212" href="#d" y="212"/><use id="n51_213" href="#d" y="213"/><use id="n51_214" href="#d" y="214"/></g>
<g id="b52" transform="translate(289.6 0)"><use id="n52_231" href="#d" y="231"/><use id="n52_232" href="#d" y="232"/><use id="n52_233" href="#d" y="233"/><use id="n52_234" href="#d" y="234"/><use id="n52_235" href="#d" y="235"/><use id="n52_236" href="#d" y="236"/><use id="n52_237" href="#d" y="237"/><use id="n52_238" href="#d" y="238"/><use id="n52_239" href="#d" y="239"/><use id="n52_240" href="#d" y="240"/><use id="n52_241" href="#d" y="241"/><use id="n52_242" href="#d" y="242"/><use id="n52_243" href="#d" y="243"/><use id="n52_244" href="#d" y="244"/><use id="n52_245" href="#d" y="245"/><use id="n52_246" href="#d" y="246"/><use id="n52_247" href="#d" y="247"/><use id="n52_248" href="#d" y="248"/><use id="n52_249" href="#d" y="249"/><use id="n52_250" href="#d" y="250"/><use id="n52_251" href="#d" y="251"/><use id="n52_252" href="#d" y="252"/><use id="n52_253" href="#d" y="253"/><use id="n52_254" href="#d" y="254"/><use id="n52_255" href="#d" y="255"/><use id="n52_256" href="#d" y="256"/><use id="n52_257" href="#d" y="257"/><use id="n52_258" href="#d" y="258"/></g>
<g id="b53" transform="translate(323.3 0)"><use id="n53_231" href="#d" y="231"/><use id="n53_232" href="#d" y="232"/><use id="n53_233" href="#d" y="233"/><use id="n53_234" href="#d" y="234"/><use id="n53_235" href="#d" y="235"/><use id="n53_236" href="#d" y="236"/><use id="n53_237" href="#d" y="237"/><use id="n53_238" href="#d" y="238"/></g>
<g id="b54" transform="translate(46.6 0)"><use id="n54_237" href="#d" y="237"/><use id="n54_238" href="#d" y="238"/><use id="n54_239" href="#d" y="239"/><use id="n54_240" href="#d" y="240"/></g>
<g id="b55" transform="translate(80.3 0)"><use id="n55_237" href="#d" y="237"/><use id="n55_238" href="#d" y="238"/><use id="n55_239" href="#d" y="239"/><use id="n55_240" href="#d" y="240"/></g>
<g id="b56" transform="translate(138.4 0)"><use id="n56_223" href="#d" y="223"/><use id="n56_224" href="#d" y="224"/><use id="n56_225" href="#d" y="225"/><use id="n56_226" href="#d" y="226"/><use id="n56_227" href="#d" y="227"/><use id="n56_228" href="#d" y="228"/><use id="n56_229" href="#d" y="229"/><use id="n56_230" href="#d" y="230"/><use id="n56_231" href="#d" y="231"/><use id="n56_232" href="#d" y="232"/><use id="n56_233" href="#d" y="233"/><use id="n56_234" href="#d" y="234"/><use id="n56_235" href="#d" y="235"/><use id="n56_236" href="#d" y="236"/><use id="n56_237" href="#d" y="237"/><use id="n56_238" href="#d" y="238"/><use id="n56_239" href="#d" y="239"/><use id="n56_240" href="#d" y="240"/><use id="n56_241" href="#d" y="241"/><use id="n56_242" href="#d" y="242"/><use id="n56_243" href="#d" y="243"/><use id="n56_244" href="#d" y="244"/><use id="n56_245" href="#d" y="245"/><use id="n56_246" href="#d" y="246"/><use id="n56_247" href="#d" y="247"/><use id="n56_248" href="#d" y="248"/><use id="n56_249" href="#d" y="249"/><use id="n56_250" href="#d" y="250"/><use id="n56_251" href="#d" y="251"/><use id="n56_252" href="#d" y="252"/></g>
<g id="b57" transform="translate(104.6 0)"><use id="n57_249" href="#d" y="249"/><use id="n57_250" href="#d" y="250"/></g>
<g id="b58" transform="translate(20.9 0)"><use id="n58_241" href="#d" y="241"/><use id="n58_242" href="#d" y="242"/><use id="n58_243" href="#d" y="243"/><use id="n58_244" href="#d" y="244"/><use id="n58_245" href="#d" y="245"/><use id="n58_246" href="#d" y="246"/><use id="n58_247" href="#d" y="247"/><use id="n58_248" href="#d" y="248"/><use id="n58_249" href="#d" y="249"/><use id="n58_250" href="#d" y="250"/><use id="n58_251" href="#d" y="251"/><use id="n58_252" href="#d" y="252"/></g>
<g id="b59" transform="translate(54.7 0)"><use id="n59_241" href="#d" y="241"/><use id="n59_242" href="#d" y="242"/><use id="n59_243" href="#d" y="243"/><use id="n59_244" href="#d" y="244"/><use id="n59_245" href="#d" y="245"/><use id="n59_246" href="#d" y="246"/><use id="n59_247" href="#d" y="247"/><use id="n59_248" href="#d" y="248"/><use id="n59_249" href="#d" y="249"/><use id="n59_250" href="#d" y="250"/></g>
<g id="b60" transform="translate(357.1 0)"><use id="n60_235" href="#d" y="235"/><use id="n60_236" href="#d" y="236"/><use id="n60_237" href="#d" y="237"/><use id="n60_238" href="#d" y="238"/></g>
<g id="b61" transform="translate(331.4 0)"><use id="n61_239" href="#d" y="239"/><use id="n61_240" href="#d" y="240"/></g>
<g id="b62" transform="translate(365.2 0)"><use id="n62_239" href="#d" y="239"/><use id="n62_240" href="#d" y="240"/><use id="n62_241" href="#d" y="241"/><use id="n62_242" href="#d" y="242"/><use id="n62_243" href="#d" y="243"/><use id="n62_244" href="#d" y="244"/><use id="n62_245" href="#d" y="245"/><use id="n62_246" href="#d" y="246"/><use id="n62_247" href="#d" y="247"/><use id="n62_248" href="#d" y="248"/><use id="n62_249" href="#d" y="249"/><use id="n62_250" href="#d" y="250"/><use id="n62_251" href="#d" y="251"/><use id="n62_252" href="#d" y="252"/><use id="n62_253" href="#d" y="253"/><use id="n62_254" href="#d" y="254"/><use id="n62_255" href="#d" y="255"/><use id="n62_256" href="#d" y="256"/></g>
<g id="b63" transform="translate(338.5 0)"><use id="n63_257" href="#d" y="257"/><use id="n63_258" href="#d" y="258"/><use id="n63_259" href="#d" y="259"/><use id="n63_260" href="#d" y="260"/><use id="n63_261" href="#d" y="261"/><use id="n63_262" href="#d" y="262"/><use id="n63_263" href="#d" y="263"/><use id="n63_264" href="#d" y="264"/><use id="n63_265" href="#d" y="265"/><use id="n63_266" href="#d" y="266"/><use id="n63_267" href="#d" y="267"/><use id="n63_268" href="#d" y="268"/></g>
<g id="b64"><use id="n64_257" href="#d" x="372.9" y="257"/><use id="n64_258" href="#d" x="372.9" y="258"/><use id="n64_259" href="#d" x="372.9" y="259"/><use id="n64_260" href="#d" x="372.9" y="260"/><use id="n64_261" href="#d" x="372.9" y="261"/><use id="n64_262" href="#d" x="372.9" y="262"/><use id="n64_263" href="#d" x="372.9" y="263"/><use id="n64_264" href="#d" x="372.9" y="264"/><use id="n64_265" href="#d" x="374.6" y="265"/><use id="n64_266" href="#d" x="376.3" y="266"/><use id="n64_267" href="#d" x="379.7" y="267"/><use id="n64_268" href="#d" x="384.1" y="268"/><use id="n64_269" href="#d" x="389.8" y="269"/><use id="n64_270" href="#d" x="389.8" y="270"/><use id="n64_271" href="#d" x="389.8" y="271"/><use id="n64_272" href="#d" x="389.8" y="272"/><use id="n64_273" href="#d" x="389.8" y="273"/><use id="n64_274" href="#d" x="389.8" y="274"/><use id="n64_275" href="#d" x="389.8" y="275"/><use id="n64_276" href="#d" x="389.8" y="276"/><use id="n64_277" href="#d" x="389.8" y="277"/><use id="n64_278" href="#d" x="389.8" y="278"/><use id="n64_279" href="#d" x="389.8" y="279"/><use id="n64_280" href="#d" x="389.8" y="280"/></g>
<g id="b65" transform="translate(287.9 0)"><use id="n65_267" href="#d" y="267"/><use id="n65_268" href="#d" y="268"/><use id="n65_269" href="#d" y="269"/><use id="n65_270" href="#d" y="270"/><use id="n65_271" href="#d" y="271"/><use id="n65_272" href="#d" y="272"/><use id="n65_273" href="#d" y="273"/><use id="n65_274" href="#d" y="274"/><use id="n65_275" href="#d" y="275"/><use id="n65_276" href="#d" y="276"/><use id="n65_277" href="#d" y="277"/><use id="n65_278" href="#d" y="278"/><use id="n65_279" href="#d" y="279"/><use id="n65_280" href="#d" y="280"/><use id="n65_281" href="#d" y="281"/><use id="n65_282" href="#d" y="282"/></g>
<g id="b66" transform="translate(321.6 0)"><use id="n66_269" href="#d" y="269"/><use id="n66_270" href="#d" y="270"/><use id="n66_271" href="#d" y="271"/><use id="n66_272" href="#d" y="272"/><use id="n66_273" href="#d" y="273"/><use id="n66_274" href="#d" y="274"/><use id="n66_275" href="#d" y="275"/><use id="n66_276" href="#d" y="276"/><use id="n66_277" href="#d" y="277"/><use id="n66_278" href="#d" y="278"/><use id="n66_279" href="#d" y="279"/><use id="n66_280" href="#d" y="280"/></g>
<g id="b67" transform="translate(355.4 0)"><use id="n67_269" href="#d" y="269"/><use id="n67_270" href="#d" y="270"/></g>
<g id="b68" transform="translate(254.1 0)"><use id="n68_273" href="#d" y="273"/><use id="n68_274" href="#d" y="274"/><use id="n68_275" href="#d" y="275"/><use id="n68_276" href="#d" y="276"/></g>
<g id="b69" transform="translate(321.6 0)"><use id="n69_281" href="#d" y="281"/><use id="n69_282" href="#d" y="282"/><use id="n69_283" href="#d" y="283"/><use id="n69_284" href="#d" y="284"/><use id="n69_285" href="#d" y="285"/><use id="n69_286" href="#d" y="286"/><use id="n69_287" href="#d" y="287"/><use id="n69_288" href="#d" y="288"/><use id="n69_289" href="#d" y="289"/><use id="n69_290" href="#d" y="290"/><use id="n69_291" href="#d" y="291"/><use id="n69_292" href="#d" y="292"/><use id="n69_293" href="#d" y="293"/><use id="n69_294" href="#d" y="294"/><use id="n69_295" href="#d" y="295"/><use id="n69_296" href="#d" y="296"/><use id="n69_297" href="#d" y="297"/><use id="n69_298" href="#d" y="298"/></g>
<g id="b70" transform="translate(422.5 0)"><use id="n70_279" href="#d" y="279"/><use id="n70_280" href="#d" y="280"/><use id="n70_281" href="#d" y="281"/><use id="n70_282" href="#d" y="282"/><use id="n70_283" href="#d" y="283"/><use id="n70_284" href="#d" y="284"/><use id="n70_285" href="#d" y="285"/><use id="n70_286" href="#d" y="286"/><use id="n70_287" href="#d" y="287"/><use id="n70_288" href="#d" y="288"/></g>
<g id="b71" transform="translate(389.8 0)"><use id="n71_281" href="#d" y="281"/><use id="n71_282" href="#d" y="282"/><use id="n71_283" href="#d" y="283"/><use id="n71_284" href="#d" y="284"/><use id="n71_285" href="#d" y="285"/><use id="n71_286" href="#d" y="286"/><use id="n71_287" href="#d" y="287"/><use id="n71_288" href="#d" y="288"/><use id="n71_289" href="#d" y="289"/><use id="n71_290" href="#d" y="290"/><use id="n71_291" href="#d" y="291"/><use id="n71_292" href="#d" y="292"/><use id="n71_293" href="#d" y="293"/><use id="n71_294" href="#d" y="294"/><use id="n71_295" href="#d" y="295"/><use id="n71_296" href="#d" y="296"/></g>
<g id="b72" transform="translate(355.9 0)"><use id="n72_285" href="#d" y="285"/><use id="n72_286" href="#d" y="286"/><use id="n72_287" href="#d" y="287"/><use id="n72_288" href="#d" y="288"/><use id="n72_289" href="#d" y="289"/><use id="n72_290" href="#d" y="290"/><use id="n72_291" href="#d" y="291"/><use id="n72_292" href="#d" y="292"/><use id="n72_293" href="#d" y="293"/><use id="n72_294" href="#d" y="294"/><use id="n72_295" href="#d" y="295"/><use id="n72_296" href="#d" y="296"/><use id="n72_297" href="#d" y="297"/><use id="n72_298" href="#d" y="298"/></g>
<g id="b73" transform="translate(422.5 0)"><use id="n73_293" href="#d" y="293"/><use id="n73_294" href="#d" y="294"/></g>
<g id="b74" transform="translate(287.9 0)"><use id="n74_291" href="#d" y="291"/><use id="n74_292" href="#d" y="292"/></g>
<g id="b75" transform="translate(287.9 0)"><use id="n75_295" href="#d" y="295"/><use id="n75_296" href="#d" y="296"/><use id="n75_297" href="#d" y="297"/><use id="n75_298" href="#d" y="298"/><use id="n75_299" href="#d" y="299"/><use id="n75_300" href="#d" y="300"/><use id="n75_301" href="#d" y="301"/><use id="n75_302" href="#d" y="302"/><use id="n75_303" href="#d" y="303"/><use id="n75_304" href="#d" y="304"/><use id="n75_305" href="#d" y="305"/><use id="n75_306" href="#d" y="306"/><use id="n75_307" href="#d" y="307"/><use id="n75_308" href="#d" y="308"/></g>
</g>
</g>
</svg>
